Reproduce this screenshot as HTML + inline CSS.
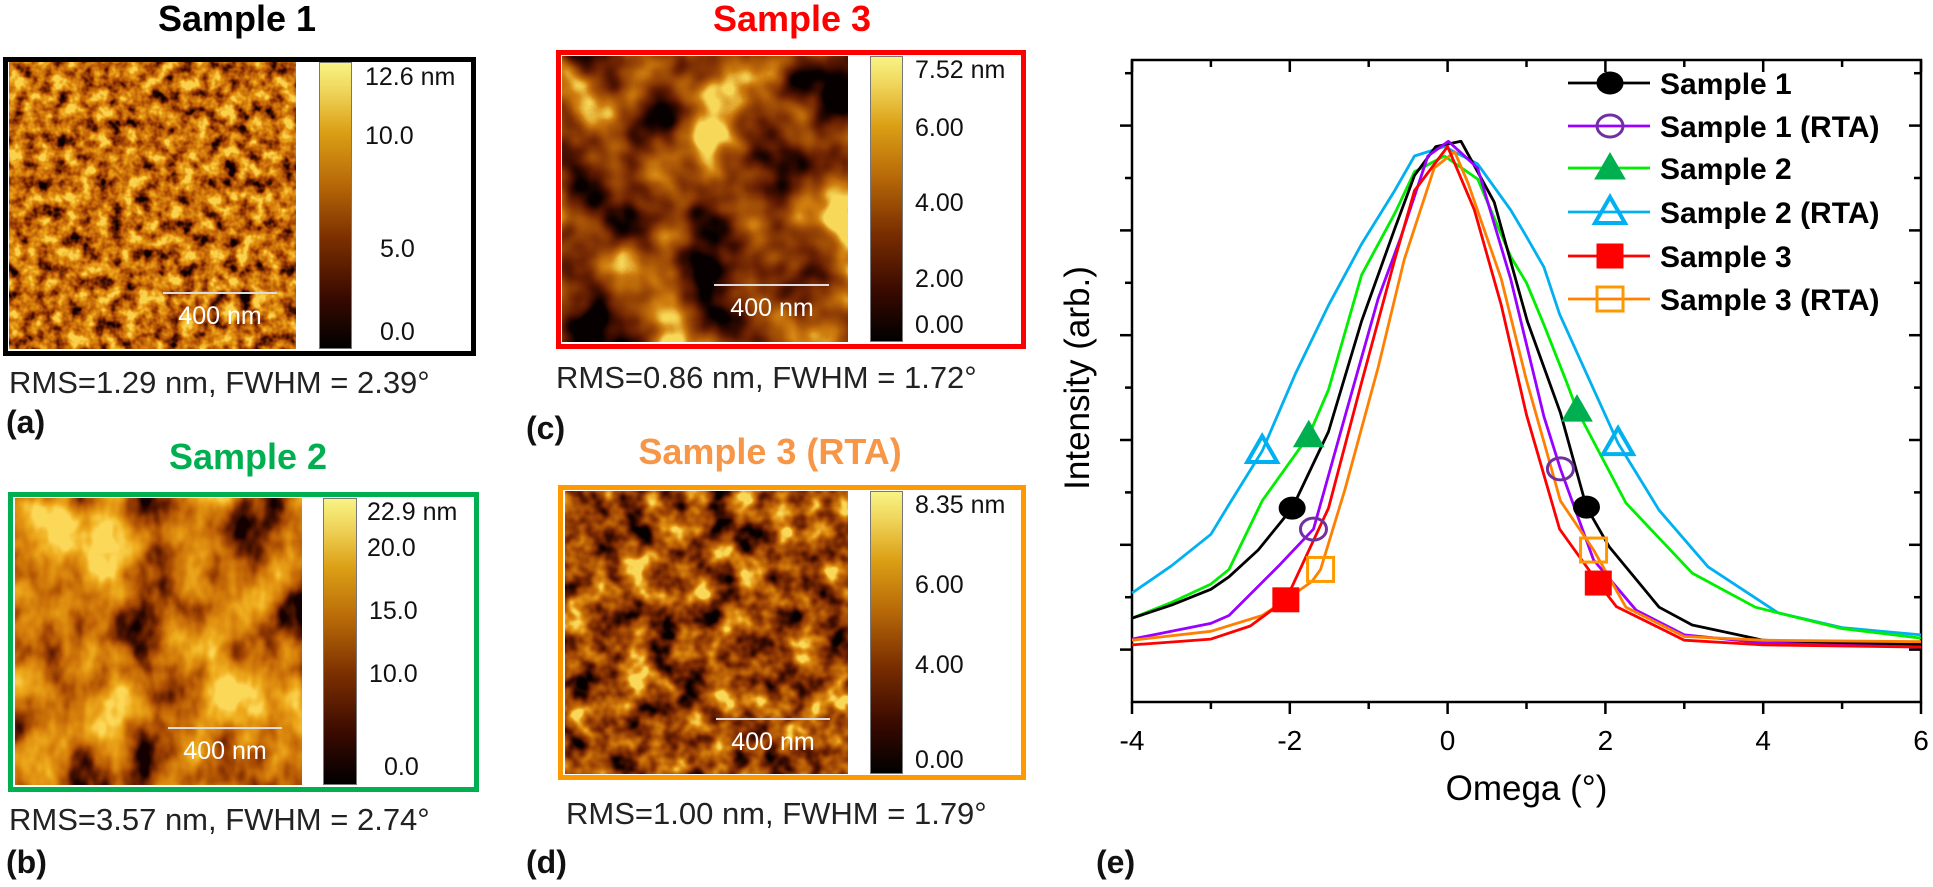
<!DOCTYPE html>
<html><head><meta charset="utf-8">
<style>
html,body{margin:0;padding:0;background:#fff;}
#root{position:relative;width:1933px;height:887px;overflow:hidden;background:#fff;font-family:"Liberation Sans",Arial,sans-serif;}
.abs{position:absolute;}
.title{position:absolute;font-weight:bold;font-size:36px;line-height:40px;height:40px;white-space:nowrap;transform:translateX(-50%);}
.frame{position:absolute;box-sizing:border-box;border:5px solid #000;}
.cbar{position:absolute;box-sizing:border-box;border:1px solid #777;background:linear-gradient(to top,#000 0%,#3a0a00 18%,#7a2e00 38%,#b86a08 58%,#dca016 76%,#efd45a 90%,#f8f484 100%);}
.cl{position:absolute;font-size:25px;line-height:28px;height:28px;color:#111;white-space:nowrap;}
.rms{position:absolute;font-size:31px;line-height:34px;height:34px;color:#222;white-space:nowrap;}
.lab{position:absolute;font-weight:bold;font-size:32px;line-height:36px;height:36px;color:#111;}
.sb{position:absolute;height:2px;background:#ddd;}
.sbt{position:absolute;color:#fff;font-size:25px;line-height:28px;height:28px;white-space:nowrap;transform:translateX(-50%);}
</style></head>
<body>
<div id="root">

<svg class="abs" width="0" height="0" style="left:0;top:0">
<defs>
<filter id="afm1" x="0" y="0" width="100%" height="100%" color-interpolation-filters="sRGB">
<feTurbulence type="fractalNoise" baseFrequency="0.07" numOctaves="3" seed="3"/>
<feColorMatrix type="matrix" values="1.9 0 0 0 -0.38  1.9 0 0 0 -0.38  1.9 0 0 0 -0.38  0 0 0 0 1"/>
<feComponentTransfer><feFuncR type="table" tableValues="0.05 0.32 0.58 0.74 0.84 0.92 0.98"/><feFuncG type="table" tableValues="0 0.08 0.22 0.37 0.5 0.63 0.82"/><feFuncB type="table" tableValues="0 0 0.01 0.03 0.05 0.1 0.3"/></feComponentTransfer>
</filter>
<filter id="afm2" x="0" y="0" width="100%" height="100%" color-interpolation-filters="sRGB">
<feTurbulence type="fractalNoise" baseFrequency="0.018 0.012" numOctaves="4" seed="8"/>
<feColorMatrix type="matrix" values="2.1 0 0 0 -0.5  2.1 0 0 0 -0.5  2.1 0 0 0 -0.5  0 0 0 0 1"/>
<feComponentTransfer><feFuncR type="table" tableValues="0.08 0.36 0.62 0.78 0.87 0.94 0.99"/><feFuncG type="table" tableValues="0 0.1 0.26 0.42 0.55 0.68 0.85"/><feFuncB type="table" tableValues="0 0 0.01 0.03 0.06 0.12 0.35"/></feComponentTransfer>
</filter>
<filter id="afm3" x="0" y="0" width="100%" height="100%" color-interpolation-filters="sRGB">
<feTurbulence type="fractalNoise" baseFrequency="0.016" numOctaves="3" seed="12"/>
<feColorMatrix type="matrix" values="2.0 0 0 0 -0.52  2.0 0 0 0 -0.52  2.0 0 0 0 -0.52  0 0 0 0 1"/>
<feComponentTransfer><feFuncR type="table" tableValues="0.03 0.24 0.42 0.56 0.68 0.82 0.97"/><feFuncG type="table" tableValues="0 0.05 0.13 0.24 0.35 0.5 0.85"/><feFuncB type="table" tableValues="0 0 0.01 0.02 0.03 0.06 0.35"/></feComponentTransfer>
</filter>
<filter id="afm4" x="0" y="0" width="100%" height="100%" color-interpolation-filters="sRGB">
<feTurbulence type="fractalNoise" baseFrequency="0.035" numOctaves="3" seed="21"/>
<feColorMatrix type="matrix" values="2.0 0 0 0 -0.5  2.0 0 0 0 -0.5  2.0 0 0 0 -0.5  0 0 0 0 1"/>
<feComponentTransfer><feFuncR type="table" tableValues="0.03 0.26 0.46 0.62 0.75 0.88 0.98"/><feFuncG type="table" tableValues="0 0.06 0.15 0.27 0.4 0.56 0.85"/><feFuncB type="table" tableValues="0 0 0.01 0.02 0.03 0.07 0.35"/></feComponentTransfer>
</filter>
</defs></svg>

<!-- Panel a -->
<div class="title" style="left:237px;top:-1px;color:#000">Sample 1</div>
<div class="frame" style="left:3px;top:57px;width:473px;height:299px;border-color:#000"></div>
<svg class="abs" style="left:9px;top:62px" width="287" height="287"><rect width="287" height="287" filter="url(#afm1)"/></svg>
<div class="cbar" style="left:319px;top:62px;width:33px;height:287px"></div>
<div class="cl" style="left:365px;top:63px">12.6 nm</div>
<div class="cl" style="left:365px;top:122px">10.0</div>
<div class="cl" style="left:380px;top:235px">5.0</div>
<div class="cl" style="left:380px;top:318px">0.0</div>
<div class="sb" style="left:163px;top:292px;width:114px"></div>
<div class="sbt" style="left:220px;top:302px">400 nm</div>
<div class="rms" style="left:9px;top:366px">RMS=1.29 nm, FWHM = 2.39°</div>
<div class="lab" style="left:6px;top:404px">(a)</div>

<!-- Panel b -->
<div class="title" style="left:248px;top:437px;color:#00b050">Sample 2</div>
<div class="frame" style="left:8px;top:492px;width:471px;height:300px;border-color:#00b050"></div>
<svg class="abs" style="left:15px;top:498px" width="287" height="287"><rect width="287" height="287" filter="url(#afm2)"/></svg>
<div class="cbar" style="left:323px;top:498px;width:34px;height:287px"></div>
<div class="cl" style="left:367px;top:498px">22.9 nm</div>
<div class="cl" style="left:367px;top:534px">20.0</div>
<div class="cl" style="left:369px;top:597px">15.0</div>
<div class="cl" style="left:369px;top:660px">10.0</div>
<div class="cl" style="left:384px;top:753px">0.0</div>
<div class="sb" style="left:168px;top:727px;width:114px"></div>
<div class="sbt" style="left:225px;top:737px">400 nm</div>
<div class="rms" style="left:9px;top:803px">RMS=3.57 nm, FWHM = 2.74°</div>
<div class="lab" style="left:6px;top:844px">(b)</div>

<!-- Panel c -->
<div class="title" style="left:792px;top:-1px;color:#ff0000">Sample 3</div>
<div class="frame" style="left:556px;top:50px;width:470px;height:299px;border-color:#ff0000"></div>
<svg class="abs" style="left:562px;top:56px" width="286" height="286"><rect width="286" height="286" filter="url(#afm3)"/></svg>
<div class="cbar" style="left:870px;top:56px;width:33px;height:286px"></div>
<div class="cl" style="left:915px;top:56px">7.52 nm</div>
<div class="cl" style="left:915px;top:114px">6.00</div>
<div class="cl" style="left:915px;top:189px">4.00</div>
<div class="cl" style="left:915px;top:265px">2.00</div>
<div class="cl" style="left:915px;top:311px">0.00</div>
<div class="sb" style="left:714px;top:284px;width:115px"></div>
<div class="sbt" style="left:772px;top:294px">400 nm</div>
<div class="rms" style="left:556px;top:361px">RMS=0.86 nm, FWHM = 1.72°</div>
<div class="lab" style="left:526px;top:410px">(c)</div>

<!-- Panel d -->
<div class="title" style="left:770px;top:432px;color:#f79646">Sample 3 (RTA)</div>
<div class="frame" style="left:558px;top:485px;width:468px;height:295px;border-color:#ff9900"></div>
<svg class="abs" style="left:565px;top:491px" width="283" height="283"><rect width="283" height="283" filter="url(#afm4)"/></svg>
<div class="cbar" style="left:870px;top:491px;width:33px;height:283px"></div>
<div class="cl" style="left:915px;top:491px">8.35 nm</div>
<div class="cl" style="left:915px;top:571px">6.00</div>
<div class="cl" style="left:915px;top:651px">4.00</div>
<div class="cl" style="left:915px;top:746px">0.00</div>
<div class="sb" style="left:716px;top:718px;width:114px"></div>
<div class="sbt" style="left:773px;top:728px">400 nm</div>
<div class="rms" style="left:566px;top:797px">RMS=1.00 nm, FWHM = 1.79°</div>
<div class="lab" style="left:526px;top:844px">(d)</div>

<!-- Panel e chart -->
<svg id="chart" class="abs" style="left:0;top:0" width="1933" height="887"></svg>
<div class="lab" style="left:1096px;top:844px">(e)</div>
</div>

<script>
const xTicks = [-4, -2, 0, 2, 4, 6];
const xTickLabels = ["-4", "-2", "0", "2", "4", "6"];
const yTickCount = 12;
const seriesNames = ["Sample 1", "Sample 1 (RTA)", "Sample 2", "Sample 2 (RTA)", "Sample 3", "Sample 3 (RTA)"];
const s1x = [-4,-3.5,-3,-2.77,-2.4,-1.97,-1.51,-1.09,-0.67,-0.42,-0.15,0.17,0.59,1.01,1.43,1.76,2.05,2.68,3.1,4,5,6];
const s1y = [1.6,1.85,2.15,2.39,2.9,3.7,5.16,7.27,9.03,10.05,10.6,10.7,9.54,7.27,5.52,3.72,2.96,1.81,1.47,1.18,1.12,1.1];
const s1rx = [-4,-3.5,-3,-2.77,-2.14,-1.7,-1.3,-0.88,-0.59,-0.25,0.01,0.38,0.8,1.22,1.43,1.85,2.39,3,4,5,6];
const s1ry = [1.2,1.35,1.5,1.65,2.6,3.3,5.45,7.7,8.88,10.42,10.7,10.19,8.07,5.45,4.45,2.71,1.75,1.28,1.13,1.08,1.05];
const s2x = [-4,-3.5,-3,-2.77,-2.35,-1.76,-1.51,-1.09,-0.67,-0.42,-0.04,0.38,0.8,1.0,1.22,1.51,1.64,2.26,3.1,3.9,5,6];
const s2y = [1.6,1.9,2.25,2.53,3.84,5.08,5.96,8.15,9.32,10.12,10.42,9.98,8.5,8.0,7.2,6.1,5.57,3.8,2.46,1.81,1.4,1.22];
const s2rx = [-4,-3.5,-3,-2.77,-2.35,-1.93,-1.51,-1.09,-0.67,-0.42,-0.04,0.38,0.8,1.0,1.22,1.42,2.16,2.68,3.3,4.19,5,6];
const s2ry = [2.08,2.6,3.2,3.77,4.79,6.26,7.57,8.74,9.76,10.42,10.6,10.27,9.39,8.88,8.3,7.4,4.94,3.66,2.58,1.7,1.42,1.28];
const s3x = [-4,-3,-2.5,-2.05,-1.51,-1.09,-0.67,-0.42,0,0.34,0.68,1.0,1.42,1.91,2.14,3,4,6];
const s3y = [1.09,1.2,1.45,1.95,3.7,6.1,8.44,9.76,10.6,9.39,7.57,5.48,3.3,2.27,1.82,1.18,1.09,1.05];
const s3rx = [-4,-3,-2.35,-2.04,-1.72,-1.61,-1.3,-0.88,-0.55,-0.17,0.09,0.26,0.68,1.0,1.25,1.43,1.85,2.26,3,4,6];
const s3ry = [1.18,1.35,1.65,1.96,2.3,2.53,4.06,6.39,8.44,10.19,10.5,9.9,8.07,6.14,4.81,3.84,2.9,1.81,1.25,1.18,1.15];
const markerX1 = [-1.97, 1.76];
const markerX1r = [-1.7, 1.43];
const markerX2 = [-1.76, 1.64];
const markerX2r = [-2.35, 2.16];
const markerX3 = [-2.05, 1.91];
const markerX3r = [-1.61, 1.85];

const NS = "http://www.w3.org/2000/svg";
const svg = document.getElementById("chart");
const PL = 1132, PR = 1921, PT = 60, PB = 702;
const XMIN = -4, XMAX = 6, YMIN = 0, YMAX = (PB - PT) / 52.4;
function sx(v){ return PL + (v - XMIN) / (XMAX - XMIN) * (PR - PL); }
function sy(v){ return PB - (v - YMIN) / (YMAX - YMIN) * (PB - PT); }
function mk(tag, attrs){ const e = document.createElementNS(NS, tag); for (const k in attrs) e.setAttribute(k, attrs[k]); svg.appendChild(e); return e; }
function interp(xs, ys, x){
  for (let i = 0; i < xs.length - 1; i++) if (x >= xs[i] && x <= xs[i+1]) { const t = (x - xs[i]) / (xs[i+1] - xs[i]); return ys[i] + t * (ys[i+1] - ys[i]); }
  return ys[ys.length - 1];
}
function marker(type, cx, cy, color, name){
  let e;
  if (type === "circle" || type === "ocircle") e = mk("ellipse", {cx: cx, cy: cy, rx: 13, ry: 11, fill: type === "circle" ? color : "none", stroke: color, "stroke-width": type === "circle" ? 1 : 3});
  else if (type === "tri" || type === "otri") e = mk("polygon", {points: `${cx},${cy-15} ${cx+15},${cy+11} ${cx-15},${cy+11}`, fill: type === "tri" ? color : "none", stroke: color, "stroke-width": type === "tri" ? 1 : 4, "stroke-linejoin": "miter"});
  else e = mk("rect", {x: cx-13, y: cy-12, width: 26, height: 24, fill: type === "sq" ? color : "none", stroke: color, "stroke-width": type === "sq" ? 1 : 3});
  
  
}

const fr = mk("rect", {x: PL, y: PT, width: PR - PL, height: PB - PT, fill: "none", stroke: "#000", "stroke-width": 2.5});


for (let v = XMIN; v <= XMAX; v += 1) {
  const major = (v % 2 === 0);
  const t = mk("line", {x1: sx(v), x2: sx(v), y1: PB, y2: PB + (major ? 12 : 7), stroke: "#000", "stroke-width": 2.5});
  
  
  const t2 = mk("line", {x1: sx(v), x2: sx(v), y1: PT, y2: PT + (major ? 12 : 7), stroke: "#000", "stroke-width": 2.5});
  
  
}
xTicks.forEach((v, i) => {
  const tx = mk("text", {x: sx(v), y: PB + 48, "text-anchor": "middle", "font-size": 28, "font-family": "Liberation Sans, Arial, sans-serif", fill: "#000"});
  tx.textContent = xTickLabels[i];
  
  
});
for (let k = 1; k <= yTickCount; k++) {
  const major = (k % 2 === 1);
  const t = mk("line", {x1: PL - (major ? 12 : 7), x2: PL, y1: sy(k), y2: sy(k), stroke: "#000", "stroke-width": 2.5});
  
  
  const t2 = mk("line", {x1: PR - (major ? 12 : 7), x2: PR, y1: sy(k), y2: sy(k), stroke: "#000", "stroke-width": 2.5});
  
  
}
const xt = mk("text", {x: (PL + PR) / 2, y: 800, "text-anchor": "middle", "font-size": 35, "font-family": "Liberation Sans, Arial, sans-serif", fill: "#000"});
xt.textContent = "Omega (°)";


const yt = mk("text", {x: 0, y: 0, "text-anchor": "middle", "font-size": 35, "font-family": "Liberation Sans, Arial, sans-serif", fill: "#000", transform: `translate(1089,${(PT+PB)/2 - 3}) rotate(-90)`});
yt.textContent = "Intensity (arb.)";



const series = [
  {xs: s1x,  ys: s1y,  mx: markerX1,  line: "#000000", mc: "#000000", m: "circle", id: "sample-1"},
  {xs: s1rx, ys: s1ry, mx: markerX1r, line: "#9900ff", mc: "#7030a0", m: "ocircle", id: "sample-1-rta"},
  {xs: s2x,  ys: s2y,  mx: markerX2,  line: "#00ee00", mc: "#00b050", m: "tri", id: "sample-2"},
  {xs: s2rx, ys: s2ry, mx: markerX2r, line: "#00b0f0", mc: "#00b0f0", m: "otri", id: "sample-2-rta"},
  {xs: s3x,  ys: s3y,  mx: markerX3,  line: "#ff0000", mc: "#ff0000", m: "sq", id: "sample-3"},
  {xs: s3rx, ys: s3ry, mx: markerX3r, line: "#ff8000", mc: "#ff9900", m: "osq", id: "sample-3-rta"}
];
const drawOrder = [3, 2, 0, 1, 5, 4];
drawOrder.forEach(i => {
  const s = series[i];
  const pts = s.xs.map((x, j) => `${sx(x).toFixed(1)},${sy(s.ys[j]).toFixed(1)}`).join(" ");
  const pl = mk("polyline", {points: pts, fill: "none", stroke: s.line, "stroke-width": 2.8, "stroke-linejoin": "round"});
  
  
});
drawOrder.forEach(i => {
  const s = series[i];
  s.mx.forEach(x => marker(s.m, sx(x), sy(interp(s.xs, s.ys, x)), s.mc, s.id + '-marker'));
});
const legY = [83, 126, 168, 212, 256, 299];
series.forEach((s, i) => {
  const y = legY[i];
  const ln = mk("line", {x1: 1568, x2: 1650, y1: y, y2: y, stroke: s.line, "stroke-width": 2.8});
  
  
  marker(s.m, 1610, y, s.mc, 'legend-marker');
  const tx = mk("text", {x: 1660, y: y + 11, "font-size": 30, "font-weight": "bold", "font-family": "Liberation Sans, Arial, sans-serif", fill: "#000"});
  tx.textContent = seriesNames[i];
  
  
});
</script>
</body></html>
